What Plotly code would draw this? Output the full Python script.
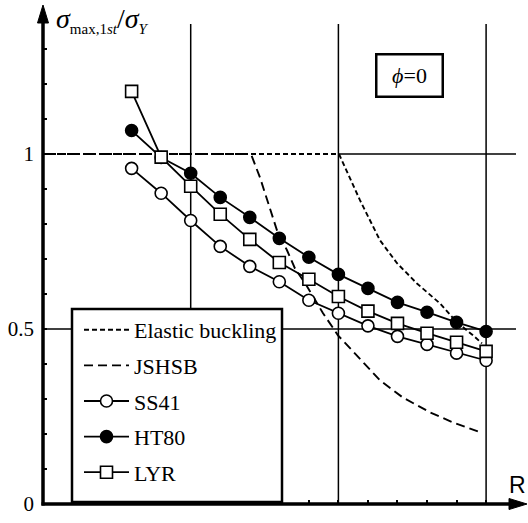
import plotly.graph_objects as go

# Slenderness-type parameter R at which each steel grade was evaluated
R = [0.6, 0.8, 1.0, 1.2, 1.4, 1.6, 1.8, 2.0, 2.2, 2.4, 2.6, 2.8, 3.0]

# Normalised first-peak stress sigma_max,1st / sigma_Y for each steel
ss41 = [0.959, 0.888, 0.810, 0.736, 0.679, 0.635, 0.582, 0.545, 0.509, 0.479, 0.456, 0.431, 0.410]
ht80 = [1.067, 0.990, 0.945, 0.876, 0.819, 0.759, 0.705, 0.656, 0.616, 0.576, 0.548, 0.519, 0.493]
lyr = [1.179, 0.991, 0.908, 0.828, 0.756, 0.690, 0.642, 0.593, 0.551, 0.516, 0.488, 0.462, 0.436]

# Elastic buckling curve (plateau at 1, then decaying)
elastic_R = [0.0, 2.004, 2.146, 2.282, 2.397, 2.532, 2.688, 2.803, 2.911, 2.972]
elastic_s = [1.0, 1.0, 0.868, 0.753, 0.688, 0.630, 0.573, 0.519, 0.482, 0.459]

# JSHSB design curve
jshsb_R = [0.0, 1.408, 1.469, 1.537, 1.584, 1.652, 1.706, 1.774, 1.896, 1.997,
           2.146, 2.282, 2.437, 2.620, 2.776, 2.959]
jshsb_s = [1.0, 1.0, 0.933, 0.847, 0.782, 0.725, 0.673, 0.631, 0.545, 0.482,
           0.416, 0.353, 0.304, 0.262, 0.233, 0.205]

x_minor_ticks = [0.2, 0.4, 0.6, 0.8, 1.0, 1.2, 1.4, 1.6, 1.8, 2.0, 2.2, 2.4, 2.6, 2.8, 3.0]
y_minor_ticks = [0.1, 0.2, 0.3, 0.4, 0.5, 0.6, 0.7, 0.8, 0.9, 1.0, 1.1, 1.2, 1.3]
y_tick_vals = [0, 0.5, 1]
y_tick_text = ["0", "0.5", "1"]
grid_R = [1, 2, 3]

SERIF = "Liberation Serif"
W, H = 528, 523
ML, MR, MT, MB = 43, 0, 2, 19
PX_PER_X = 147.7
PX_PER_Y = 350.0
x_max = (W - ML - MR) / PX_PER_X
y_max = (H - MT - MB) / PX_PER_Y
Y0_PX = H - MB


def dx(px):
    """Horizontal page pixel -> data x."""
    return (px - ML) / PX_PER_X


def dy(py):
    """Vertical page pixel -> data y."""
    return (Y0_PX - py) / PX_PER_Y


def paper_x(px):
    return (px - ML) / (W - ML - MR)


def paper_y(py):
    return (Y0_PX - py) / (H - MT - MB)


fig = go.Figure()

fig.add_trace(go.Scatter(
    x=elastic_R, y=elastic_s, mode="lines", name="Elastic buckling",
    line=dict(color="black", width=1.9, dash="5px,3px"), legendgroup="a"))
fig.add_trace(go.Scatter(
    x=jshsb_R, y=jshsb_s, mode="lines", name="JSHSB",
    line=dict(color="black", width=1.9, dash="9px,5px"), legendgroup="b"))
fig.add_trace(go.Scatter(
    x=R, y=ss41, mode="lines+markers", name="SS41",
    line=dict(color="black", width=1.8),
    marker=dict(symbol="circle", size=12, color="white",
                line=dict(color="black", width=1.6)), legendgroup="c"))
fig.add_trace(go.Scatter(
    x=R, y=ht80, mode="lines+markers", name="HT80",
    line=dict(color="black", width=1.8),
    marker=dict(symbol="circle", size=12, color="black",
                line=dict(color="black", width=1.6)), legendgroup="d"))
fig.add_trace(go.Scatter(
    x=R, y=lyr, mode="lines+markers", name="LYR",
    line=dict(color="black", width=1.8),
    marker=dict(symbol="square", size=12, color="white",
                line=dict(color="black", width=1.6)), legendgroup="e"))

shapes = []
# Grid lines
for g in grid_R:
    shapes.append(dict(type="line", xref="x", yref="y", x0=g, x1=g, y0=0, y1=dy(24),
                       line=dict(color="black", width=1.5), layer="below"))
shapes.append(dict(type="line", xref="x", yref="y", x0=0, x1=dx(516), y0=0.5, y1=0.5,
                   line=dict(color="black", width=1.5), layer="below"))
shapes.append(dict(type="line", xref="x", yref="y", x0=2.0, x1=dx(516), y0=1.0, y1=1.0,
                   line=dict(color="black", width=1.5), layer="below"))
# Legend frame
shapes.append(dict(type="rect", xref="paper", yref="paper",
                   x0=paper_x(72), x1=paper_x(282), y0=paper_y(502), y1=paper_y(309),
                   fillcolor="white", line=dict(color="black", width=2.5), layer="above"))
# Axis lines with arrow heads (paper coordinates so they are not clipped)
shapes.append(dict(type="line", xref="paper", yref="paper",
                   x0=paper_x(43), x1=paper_x(43), y0=paper_y(505.5), y1=paper_y(20),
                   line=dict(color="black", width=3.5), layer="above"))
shapes.append(dict(type="line", xref="paper", yref="paper",
                   x0=paper_x(41.5), x1=paper_x(512), y0=paper_y(504), y1=paper_y(504),
                   line=dict(color="black", width=3.5), layer="above"))
shapes.append(dict(type="path", xref="paper", yref="paper",
                   path=(f"M {paper_x(37.5)},{paper_y(23)} L {paper_x(43)},{paper_y(5)} "
                         f"L {paper_x(48.5)},{paper_y(23)} Z"),
                   fillcolor="black", line=dict(color="black", width=1)))
shapes.append(dict(type="path", xref="paper", yref="paper",
                   path=(f"M {paper_x(509)},{paper_y(498.5)} L {paper_x(527)},{paper_y(504)} "
                         f"L {paper_x(509)},{paper_y(509.5)} Z"),
                   fillcolor="black", line=dict(color="black", width=1)))

annotations = [
    dict(x=paper_x(54), y=paper_y(20), xref="paper", yref="paper",
         xanchor="left", yanchor="middle", showarrow=False,
         text=("<i>σ</i><sub><span style='font-size:15px'>max,1<i>st</i></span></sub>"
               "/<i>σ</i><sub><span style='font-size:15px'><i>Y</i></span></sub>"),
         font=dict(family=SERIF, size=28, color="black")),
    dict(x=dx(517), y=dy(485), xref="x", yref="y", xanchor="center", yanchor="middle",
         showarrow=False, text="R", font=dict(family="Liberation Sans", size=23, color="black")),
    dict(x=dx(409.5), y=dy(75), xref="x", yref="y", showarrow=False,
         xanchor="center", yanchor="middle",
         text="<i>ϕ</i>=0", font=dict(family=SERIF, size=22, color="black"),
         bordercolor="black", borderwidth=2.5, borderpad=2, width=60, height=36,
         bgcolor="white"),
]

fig.update_layout(
    width=W, height=H,
    margin=dict(l=ML, r=MR, t=MT, b=MB),
    paper_bgcolor="white", plot_bgcolor="white",
    showlegend=True,
    legend=dict(x=paper_x(79), y=paper_y(309),
                xanchor="left", yanchor="top",
                bgcolor="rgba(0,0,0,0)", borderwidth=0,
                font=dict(family=SERIF, size=22, color="black"),
                tracegroupgap=4, itemwidth=45),
    xaxis=dict(range=[0, x_max], showgrid=False, zeroline=False, showline=False,
               showticklabels=False, tickmode="array", tickvals=x_minor_ticks,
               ticks="inside", ticklen=4, tickwidth=1.5, tickcolor="black"),
    yaxis=dict(range=[0, y_max], showgrid=False, zeroline=False, showline=False,
               tickmode="array", tickvals=y_tick_vals, ticktext=y_tick_text,
               ticks="", ticklabelstandoff=8,
               tickfont=dict(family=SERIF, size=21, color="black"),
               minor=dict(tickvals=y_minor_ticks, ticks="inside", ticklen=4,
                          tickwidth=1.5, tickcolor="black")),
    shapes=shapes,
    annotations=annotations,
)

fig.write_html("out.html")
